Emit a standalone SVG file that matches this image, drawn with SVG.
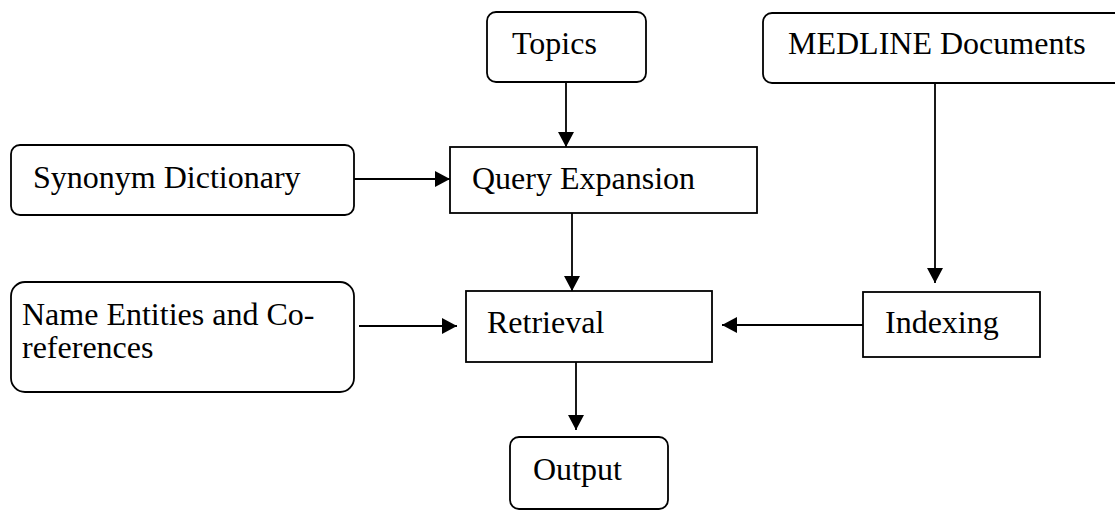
<svg xmlns="http://www.w3.org/2000/svg" width="1115" height="510" viewBox="0 0 1115 510">
  <style>
    .box { fill: #fff; stroke: #000; stroke-width: 1.8; }
    .lbl { font-family: "Liberation Serif", "Times New Roman", serif; font-size: 32px; fill: #000; }
    .edge { stroke: #000; stroke-width: 1.8; fill: none; marker-end: url(#arrow); }
  </style>
  <defs>
    <marker id="arrow" viewBox="0 0 15 16" refX="15" refY="8" markerWidth="15" markerHeight="16" markerUnits="userSpaceOnUse" orient="auto">
      <path d="M0,0 L15,8 L0,16 Z" fill="#000"/>
    </marker>
  </defs>

  <g id="topics">
    <rect class="box" x="487" y="12" width="159" height="70" rx="9"/>
    <text class="lbl" x="512" y="54">Topics</text>
  </g>
  <g id="medline">
    <rect class="box" x="763" y="13" width="370" height="70" rx="9"/>
    <text class="lbl" x="788" y="54">MEDLINE Documents</text>
  </g>
  <g id="synonym">
    <rect class="box" x="11" y="145" width="343" height="70" rx="9"/>
    <text class="lbl" x="33" y="188">Synonym Dictionary</text>
  </g>
  <g id="query-expansion">
    <rect class="box" x="450" y="147" width="307" height="66"/>
    <text class="lbl" x="472" y="189">Query Expansion</text>
  </g>
  <g id="name-entities">
    <rect class="box" x="11" y="282" width="343" height="110" rx="14"/>
    <text class="lbl" x="22" y="325">Name Entities and Co-</text>
    <text class="lbl" x="22" y="358">references</text>
  </g>
  <g id="retrieval">
    <rect class="box" x="466" y="291" width="246" height="71"/>
    <text class="lbl" x="487" y="333">Retrieval</text>
  </g>
  <g id="indexing">
    <rect class="box" x="863" y="292" width="177" height="65"/>
    <text class="lbl" x="885" y="333">Indexing</text>
  </g>
  <g id="output">
    <rect class="box" x="510" y="437" width="158" height="72" rx="9"/>
    <text class="lbl" x="533" y="480">Output</text>
  </g>

  <g id="connectors">
    <line class="edge" x1="566" y1="82" x2="566" y2="147"/>
    <line class="edge" x1="354" y1="179" x2="450" y2="179"/>
    <line class="edge" x1="572" y1="213" x2="572" y2="291"/>
    <line class="edge" x1="935" y1="83" x2="935" y2="283"/>
    <line class="edge" x1="359" y1="326" x2="457" y2="326"/>
    <line class="edge" x1="863" y1="325" x2="722" y2="325"/>
    <line class="edge" x1="576" y1="362" x2="576" y2="430"/>
  </g>
</svg>
